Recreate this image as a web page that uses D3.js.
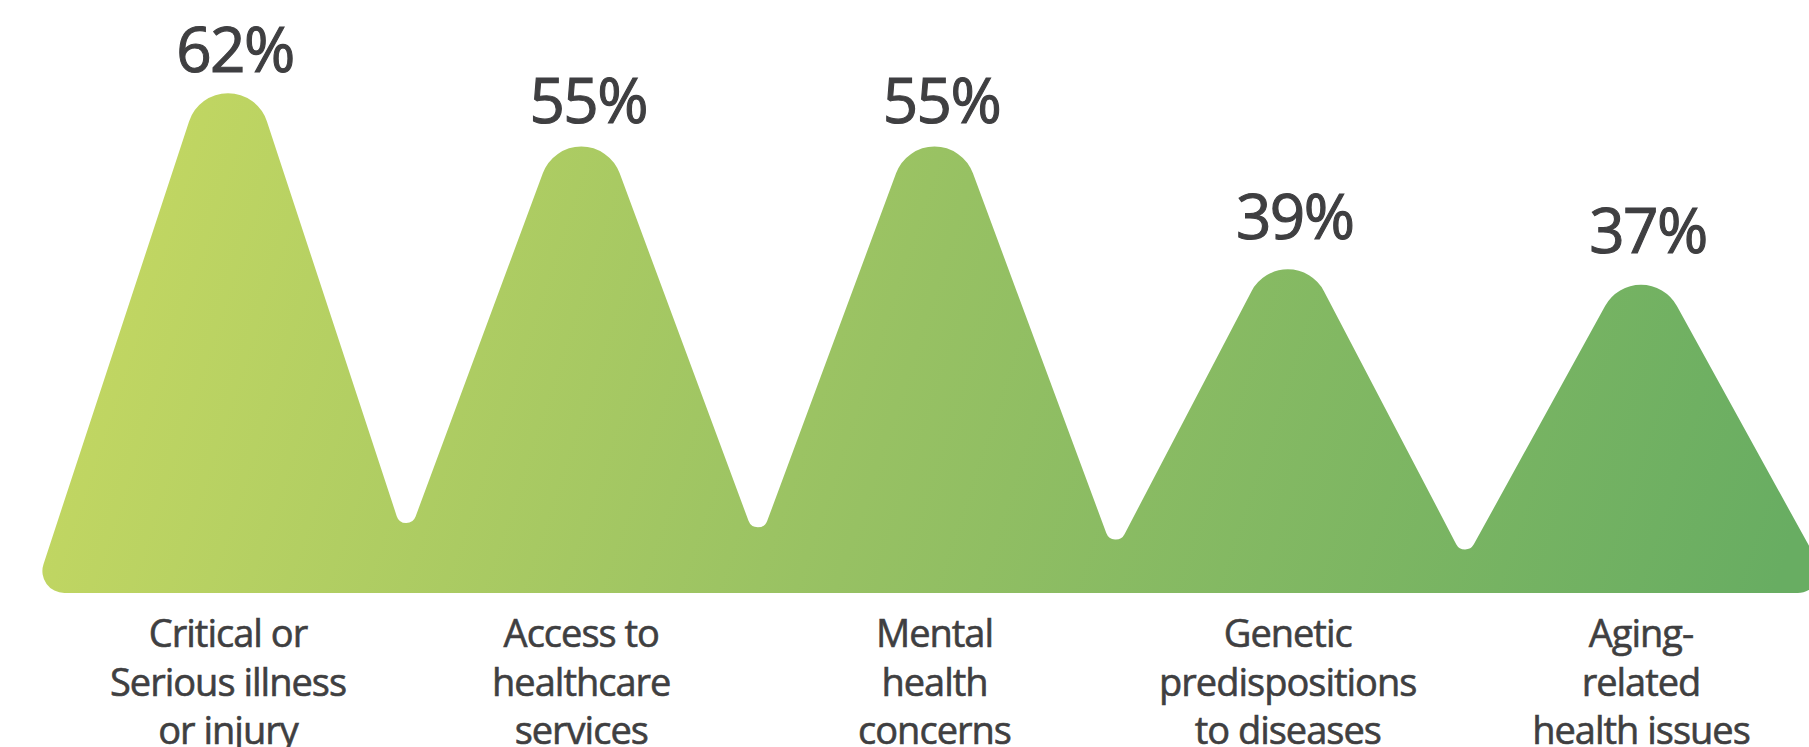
<!DOCTYPE html>
<html>
<head>
<meta charset="utf-8">
<script src="https://cdn.jsdelivr.net/npm/d3@7"></script>
<style>
  html, body { margin: 0; padding: 0; background: #ffffff; }
  svg { display: block; }
</style>
</head>
<body>
<svg id="chart" width="1809" height="747"></svg>
<script>
// ---- data ----
const categories = [
  "Critical or Serious illness or injury",
  "Access to healthcare services",
  "Mental health concerns",
  "Genetic predispositions to diseases",
  "Aging-related health issues"
];
const labelLines = [
  ["Critical or", "Serious illness", "or injury"],
  ["Access to", "healthcare", "services"],
  ["Mental", "health", "concerns"],
  ["Genetic", "predispositions", "to diseases"],
  ["Aging-", "related", "health issues"]
];
const values = [62, 55, 55, 39, 37];
const valueLabels = ["62%", "55%", "55%", "39%", "37%"];

// ---- layout ----
const W = 1809, H = 747;
const base = 593;          // bottom of the shape
const halfWidth = 194;     // half base width of each peak
const capR = 41, valleyR = 10, cornerR = 22;

const svg = d3.select("#chart");

const x = d3.scalePoint().domain(categories).range([228, 1641]);
const y = d3.scaleLinear().domain([0, 62]).range([base, 3]);
// label baseline scale
const yLabel = d3.scaleLinear().domain([0, 62]).range([522, 72]);

// gradient
const defs = svg.append("defs");
const grad = defs.append("linearGradient")
  .attr("id", "g").attr("gradientUnits", "userSpaceOnUse")
  .attr("x1", 60).attr("y1", 80).attr("x2", 1760).attr("y2", 640);
grad.append("stop").attr("offset", "0").attr("stop-color", "#c7d962");
grad.append("stop").attr("offset", "0.5").attr("stop-color", "#97c163");
grad.append("stop").attr("offset", "1").attr("stop-color", "#68ad62");

// build vertices
const peaks = categories.map((c, i) => ({ cx: x(c), ay: y(values[i]) }));
function intersect(p1, p2, p3, p4) {
  const d = (p1[0]-p2[0])*(p3[1]-p4[1]) - (p1[1]-p2[1])*(p3[0]-p4[0]);
  const a = p1[0]*p2[1] - p1[1]*p2[0];
  const b = p3[0]*p4[1] - p3[1]*p4[0];
  return [(a*(p3[0]-p4[0]) - (p1[0]-p2[0])*b)/d, (a*(p3[1]-p4[1]) - (p1[1]-p2[1])*b)/d];
}
const verts = [];
verts.push({ p: [peaks[0].cx - halfWidth, base], r: cornerR });
peaks.forEach((pk, i) => {
  verts.push({ p: [pk.cx, pk.ay], r: capR });
  if (i < peaks.length - 1) {
    const nx = peaks[i+1];
    const v = intersect([pk.cx, pk.ay], [pk.cx + halfWidth, base],
                        [nx.cx, nx.ay], [nx.cx - halfWidth, base]);
    verts.push({ p: v, r: valleyR });
  }
});
verts.push({ p: [peaks[peaks.length-1].cx + halfWidth, base], r: cornerR });

const path = d3.path();
const n = verts.length;
const first = verts[0].p, last = verts[n-1].p;
path.moveTo((first[0] + last[0]) / 2, base);
for (let i = 0; i < n; i++) {
  const cur = verts[i].p;
  const nxt = i < n - 1 ? verts[i+1].p : [(first[0] + last[0]) / 2, base];
  path.arcTo(cur[0], cur[1], nxt[0], nxt[1], verts[i].r);
}
path.closePath();

svg.append("path").attr("d", path.toString()).attr("fill", "url(#g)");

// value labels
svg.selectAll("text.val").data(values).join("text")
  .attr("class", "val")
  .attr("x", (d, i) => x(categories[i]) + 7)
  .attr("y", d => yLabel(d))
  .attr("text-anchor", "middle")
  .attr("font-family", "'Open Sans', 'Noto Sans', sans-serif")
  .attr("font-size", 62)
  .attr("letter-spacing", "-1.5")
  .attr("fill", "#3f3f41")
  .attr("stroke", "#3f3f41")
  .attr("stroke-width", 1.1)
  .text((d, i) => valueLabels[i]);

// category labels
const cat = svg.selectAll("text.cat").data(categories).join("text")
  .attr("class", "cat")
  .attr("text-anchor", "middle")
  .attr("font-family", "'Open Sans', 'Noto Sans', sans-serif")
  .attr("font-size", 38)
  .attr("letter-spacing", "-1")
  .attr("fill", "#3f3f41")
  .attr("stroke", "#3f3f41")
  .attr("stroke-width", 0.6);
cat.each(function(d, i) {
  d3.select(this).selectAll("tspan").data(labelLines[i]).join("tspan")
    .attr("x", x(d))
    .attr("y", (t, j) => 647 + j * 48.5)
    .text(t => t);
});
</script>
</body>
</html>
